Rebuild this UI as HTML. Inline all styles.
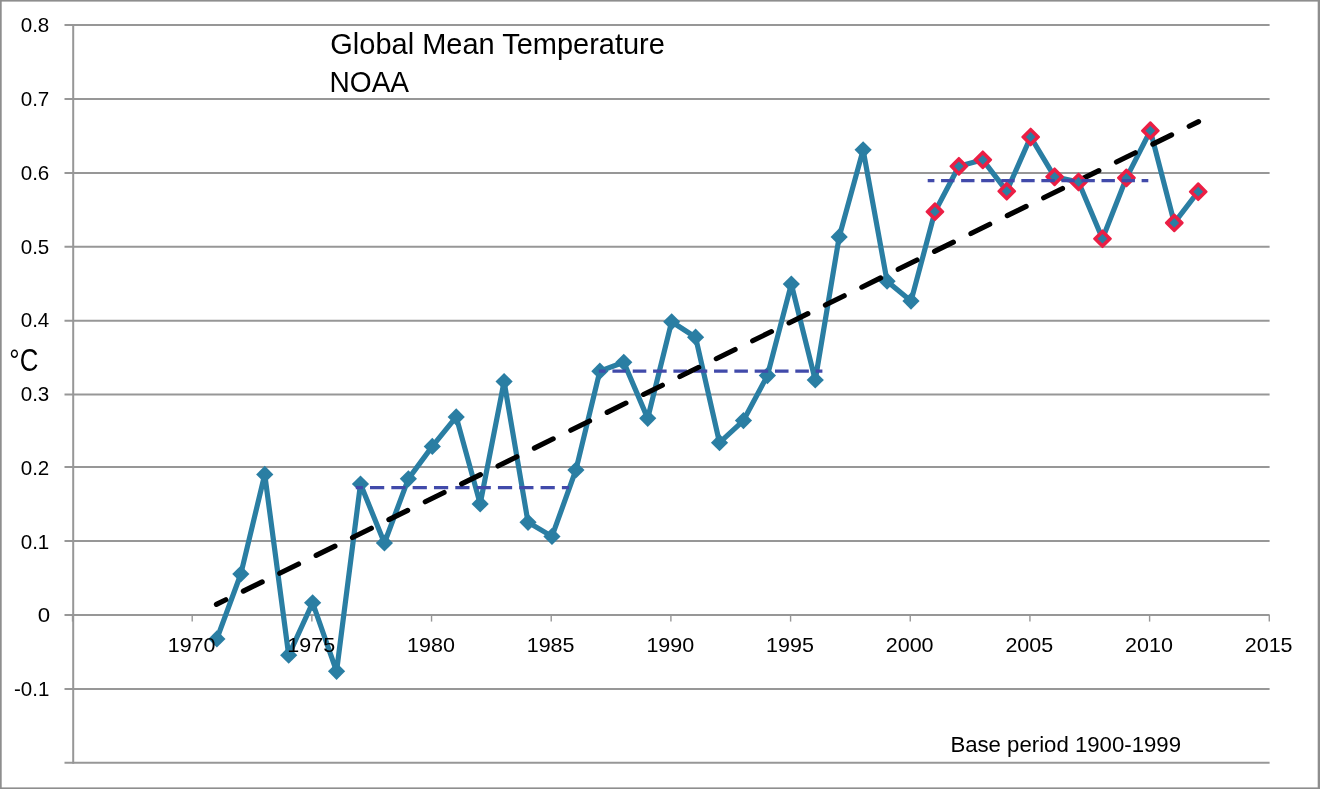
<!DOCTYPE html>
<html lang="en"><head><meta charset="utf-8"><title>Global Mean Temperature NOAA</title>
<style>html,body{margin:0;padding:0;background:#fff}body{width:1320px;height:789px;overflow:hidden}svg{display:block}</style>
</head><body>
<svg width="1320" height="789" viewBox="0 0 1320 789">
<rect x="0" y="0" width="1320" height="789" fill="#fff"/>
<g fill="#8e8e8e"><rect x="0" y="0" width="1320" height="1.6"/><rect x="0" y="787.4" width="1320" height="1.6"/><rect x="0" y="0" width="1.7" height="789"/><rect x="1317.7" y="0" width="2.3" height="789"/></g>
<g stroke="#979797" stroke-width="2" fill="none">
<line x1="64.5" y1="25.00" x2="1269.6" y2="25.00"/>
<line x1="64.5" y1="98.90" x2="1269.6" y2="98.90"/>
<line x1="64.5" y1="172.90" x2="1269.6" y2="172.90"/>
<line x1="64.5" y1="246.70" x2="1269.6" y2="246.70"/>
<line x1="64.5" y1="320.70" x2="1269.6" y2="320.70"/>
<line x1="64.5" y1="394.60" x2="1269.6" y2="394.60"/>
<line x1="64.5" y1="466.90" x2="1269.6" y2="466.90"/>
<line x1="64.5" y1="540.90" x2="1269.6" y2="540.90"/>
<line x1="64.5" y1="614.90" x2="1269.6" y2="614.90"/>
<line x1="64.5" y1="688.90" x2="1269.6" y2="688.90"/>
<line x1="64.5" y1="762.80" x2="1269.6" y2="762.80"/>
</g>
<line x1="73.2" y1="24.0" x2="73.2" y2="763.8" stroke="#979797" stroke-width="2"/>
<g stroke="#979797" stroke-width="1.4">
<line x1="72.52" y1="614.9" x2="72.52" y2="621.6"/>
<line x1="192.20" y1="614.9" x2="192.20" y2="621.6"/>
<line x1="311.88" y1="614.9" x2="311.88" y2="621.6"/>
<line x1="431.55" y1="614.9" x2="431.55" y2="621.6"/>
<line x1="551.22" y1="614.9" x2="551.22" y2="621.6"/>
<line x1="670.90" y1="614.9" x2="670.90" y2="621.6"/>
<line x1="790.58" y1="614.9" x2="790.58" y2="621.6"/>
<line x1="910.25" y1="614.9" x2="910.25" y2="621.6"/>
<line x1="1029.92" y1="614.9" x2="1029.92" y2="621.6"/>
<line x1="1149.60" y1="614.9" x2="1149.60" y2="621.6"/>
<line x1="1269.28" y1="614.9" x2="1269.28" y2="621.6"/>
</g>
<polyline points="216.88,638.90 240.82,573.99 264.75,474.42 288.69,655.13 312.62,602.76 336.56,671.36 360.50,484.01 384.43,543.02 408.37,478.84 432.30,446.39 456.23,416.89 480.17,503.92 504.10,381.48 528.04,522.36 551.97,536.38 575.91,469.99 599.85,371.15 623.78,362.30 647.71,418.36 671.65,321.74 695.59,337.22 719.52,442.70 743.45,420.57 767.39,375.58 791.33,284.12 815.26,380.01 839.19,236.91 863.13,149.87 887.07,281.17 911.00,301.08 934.93,211.69 958.87,166.32 982.80,159.83 1006.74,191.18 1030.67,136.97 1054.61,176.80 1078.54,181.96 1102.48,238.76 1126.41,177.90 1150.35,130.70 1174.28,222.90 1198.22,191.70" fill="none" stroke="#2a7ea3" stroke-width="5.2" stroke-linejoin="round"/>
<polygon points="216.88,630.30 225.48,638.90 216.88,647.50 208.28,638.90" fill="#2a7ea3"/>
<polygon points="240.82,565.39 249.42,573.99 240.82,582.59 232.22,573.99" fill="#2a7ea3"/>
<polygon points="264.75,465.82 273.36,474.42 264.75,483.02 256.15,474.42" fill="#2a7ea3"/>
<polygon points="288.69,646.53 297.29,655.13 288.69,663.73 280.09,655.13" fill="#2a7ea3"/>
<polygon points="312.62,594.16 321.23,602.76 312.62,611.36 304.02,602.76" fill="#2a7ea3"/>
<polygon points="336.56,662.76 345.16,671.36 336.56,679.96 327.96,671.36" fill="#2a7ea3"/>
<polygon points="360.50,475.41 369.10,484.01 360.50,492.61 351.89,484.01" fill="#2a7ea3"/>
<polygon points="384.43,534.42 393.03,543.02 384.43,551.62 375.83,543.02" fill="#2a7ea3"/>
<polygon points="408.37,470.24 416.97,478.84 408.37,487.44 399.76,478.84" fill="#2a7ea3"/>
<polygon points="432.30,437.79 440.90,446.39 432.30,454.99 423.70,446.39" fill="#2a7ea3"/>
<polygon points="456.23,408.29 464.83,416.89 456.23,425.49 447.63,416.89" fill="#2a7ea3"/>
<polygon points="480.17,495.32 488.77,503.92 480.17,512.52 471.57,503.92" fill="#2a7ea3"/>
<polygon points="504.10,372.88 512.70,381.48 504.10,390.08 495.50,381.48" fill="#2a7ea3"/>
<polygon points="528.04,513.76 536.64,522.36 528.04,530.96 519.44,522.36" fill="#2a7ea3"/>
<polygon points="551.97,527.78 560.57,536.38 551.97,544.98 543.37,536.38" fill="#2a7ea3"/>
<polygon points="575.91,461.39 584.51,469.99 575.91,478.59 567.31,469.99" fill="#2a7ea3"/>
<polygon points="599.85,362.55 608.45,371.15 599.85,379.75 591.25,371.15" fill="#2a7ea3"/>
<polygon points="623.78,353.70 632.38,362.30 623.78,370.90 615.18,362.30" fill="#2a7ea3"/>
<polygon points="647.71,409.76 656.31,418.36 647.71,426.96 639.11,418.36" fill="#2a7ea3"/>
<polygon points="671.65,313.14 680.25,321.74 671.65,330.34 663.05,321.74" fill="#2a7ea3"/>
<polygon points="695.59,328.62 704.19,337.22 695.59,345.82 686.99,337.22" fill="#2a7ea3"/>
<polygon points="719.52,434.10 728.12,442.70 719.52,451.30 710.92,442.70" fill="#2a7ea3"/>
<polygon points="743.45,411.97 752.05,420.57 743.45,429.17 734.85,420.57" fill="#2a7ea3"/>
<polygon points="767.39,366.98 775.99,375.58 767.39,384.18 758.79,375.58" fill="#2a7ea3"/>
<polygon points="791.33,275.52 799.93,284.12 791.33,292.72 782.73,284.12" fill="#2a7ea3"/>
<polygon points="815.26,371.41 823.86,380.01 815.26,388.61 806.66,380.01" fill="#2a7ea3"/>
<polygon points="839.19,228.31 847.79,236.91 839.19,245.51 830.59,236.91" fill="#2a7ea3"/>
<polygon points="863.13,141.27 871.73,149.87 863.13,158.47 854.53,149.87" fill="#2a7ea3"/>
<polygon points="887.07,272.57 895.67,281.17 887.07,289.77 878.47,281.17" fill="#2a7ea3"/>
<polygon points="911.00,292.48 919.60,301.08 911.00,309.68 902.40,301.08" fill="#2a7ea3"/>
<line x1="355.80" y1="487.60" x2="569.00" y2="487.60" stroke="#414aaa" stroke-width="3.4" stroke-dasharray="14.213 7.107" stroke-dashoffset="7.107"/>
<line x1="598.90" y1="371.10" x2="822.40" y2="371.10" stroke="#414aaa" stroke-width="3.4" stroke-dasharray="13.545 6.773" stroke-dashoffset="6.773"/>
<line x1="216.40" y1="604.40" x2="1198.60" y2="121.60" stroke="#000" stroke-width="5.1" stroke-linecap="round" stroke-dasharray="21.018 19.517" stroke-dashoffset="10.509"/>
<polygon points="934.93,203.39 943.23,211.69 934.93,219.99 926.63,211.69" fill="#eb1f45" stroke="#eb1f45" stroke-width="2.2" stroke-linejoin="round"/>
<polygon points="934.93,206.84 939.78,211.69 934.93,216.54 930.08,211.69" fill="#2a7ea3"/>
<polygon points="958.87,158.02 967.17,166.32 958.87,174.62 950.57,166.32" fill="#eb1f45" stroke="#eb1f45" stroke-width="2.2" stroke-linejoin="round"/>
<polygon points="958.87,161.47 963.72,166.32 958.87,171.17 954.02,166.32" fill="#2a7ea3"/>
<polygon points="982.80,151.53 991.10,159.83 982.80,168.13 974.50,159.83" fill="#eb1f45" stroke="#eb1f45" stroke-width="2.2" stroke-linejoin="round"/>
<polygon points="982.80,154.98 987.65,159.83 982.80,164.68 977.95,159.83" fill="#2a7ea3"/>
<polygon points="1006.74,182.88 1015.04,191.18 1006.74,199.48 998.44,191.18" fill="#eb1f45" stroke="#eb1f45" stroke-width="2.2" stroke-linejoin="round"/>
<polygon points="1006.74,186.33 1011.59,191.18 1006.74,196.03 1001.89,191.18" fill="#2a7ea3"/>
<polygon points="1030.67,128.67 1038.97,136.97 1030.67,145.27 1022.38,136.97" fill="#eb1f45" stroke="#eb1f45" stroke-width="2.2" stroke-linejoin="round"/>
<polygon points="1030.67,132.12 1035.52,136.97 1030.67,141.82 1025.83,136.97" fill="#2a7ea3"/>
<polygon points="1054.61,168.50 1062.91,176.80 1054.61,185.10 1046.31,176.80" fill="#eb1f45" stroke="#eb1f45" stroke-width="2.2" stroke-linejoin="round"/>
<polygon points="1054.61,171.95 1059.46,176.80 1054.61,181.65 1049.76,176.80" fill="#2a7ea3"/>
<polygon points="1078.54,173.66 1086.84,181.96 1078.54,190.26 1070.24,181.96" fill="#eb1f45" stroke="#eb1f45" stroke-width="2.2" stroke-linejoin="round"/>
<polygon points="1078.54,177.11 1083.39,181.96 1078.54,186.81 1073.69,181.96" fill="#2a7ea3"/>
<polygon points="1102.48,230.46 1110.78,238.76 1102.48,247.06 1094.18,238.76" fill="#eb1f45" stroke="#eb1f45" stroke-width="2.2" stroke-linejoin="round"/>
<polygon points="1102.48,233.91 1107.33,238.76 1102.48,243.61 1097.63,238.76" fill="#2a7ea3"/>
<polygon points="1126.41,169.60 1134.71,177.90 1126.41,186.20 1118.12,177.90" fill="#eb1f45" stroke="#eb1f45" stroke-width="2.2" stroke-linejoin="round"/>
<polygon points="1126.41,173.05 1131.26,177.90 1126.41,182.75 1121.57,177.90" fill="#2a7ea3"/>
<polygon points="1150.35,122.40 1158.65,130.70 1150.35,139.00 1142.05,130.70" fill="#eb1f45" stroke="#eb1f45" stroke-width="2.2" stroke-linejoin="round"/>
<polygon points="1150.35,125.85 1155.20,130.70 1150.35,135.55 1145.50,130.70" fill="#2a7ea3"/>
<polygon points="1174.28,214.60 1182.58,222.90 1174.28,231.20 1165.98,222.90" fill="#eb1f45" stroke="#eb1f45" stroke-width="2.2" stroke-linejoin="round"/>
<polygon points="1174.28,218.05 1179.13,222.90 1174.28,227.75 1169.43,222.90" fill="#2a7ea3"/>
<polygon points="1198.22,183.40 1206.52,191.70 1198.22,200.00 1189.92,191.70" fill="#eb1f45" stroke="#eb1f45" stroke-width="2.2" stroke-linejoin="round"/>
<polygon points="1198.22,186.85 1203.07,191.70 1198.22,196.55 1193.37,191.70" fill="#2a7ea3"/>
<line x1="927.70" y1="180.60" x2="1148.30" y2="180.60" stroke="#414aaa" stroke-width="3.4" stroke-dasharray="13.370 6.685" stroke-dashoffset="6.685"/>
<g font-family="'Liberation Sans', sans-serif" fill="#000">
<text x="20.70" y="32.45" font-size="21" textLength="28.6" lengthAdjust="spacingAndGlyphs">0.8</text>
<text x="20.70" y="106.18" font-size="21" textLength="28.6" lengthAdjust="spacingAndGlyphs">0.7</text>
<text x="20.70" y="179.91" font-size="21" textLength="28.6" lengthAdjust="spacingAndGlyphs">0.6</text>
<text x="20.70" y="253.64" font-size="21" textLength="28.6" lengthAdjust="spacingAndGlyphs">0.5</text>
<text x="20.70" y="327.37" font-size="21" textLength="28.6" lengthAdjust="spacingAndGlyphs">0.4</text>
<text x="20.70" y="401.10" font-size="21" textLength="28.6" lengthAdjust="spacingAndGlyphs">0.3</text>
<text x="20.70" y="474.83" font-size="21" textLength="28.6" lengthAdjust="spacingAndGlyphs">0.2</text>
<text x="20.70" y="548.56" font-size="21" textLength="28.6" lengthAdjust="spacingAndGlyphs">0.1</text>
<text x="37.70" y="622.29" font-size="21" textLength="12.4" lengthAdjust="spacingAndGlyphs">0</text>
<text x="14.00" y="696.02" font-size="21" textLength="35.3" lengthAdjust="spacingAndGlyphs">-0.1</text>
<text x="167.70" y="652" font-size="21" textLength="47.8" lengthAdjust="spacingAndGlyphs">1970</text>
<text x="287.38" y="652" font-size="21" textLength="47.8" lengthAdjust="spacingAndGlyphs">1975</text>
<text x="407.05" y="652" font-size="21" textLength="47.8" lengthAdjust="spacingAndGlyphs">1980</text>
<text x="526.72" y="652" font-size="21" textLength="47.8" lengthAdjust="spacingAndGlyphs">1985</text>
<text x="646.40" y="652" font-size="21" textLength="47.8" lengthAdjust="spacingAndGlyphs">1990</text>
<text x="766.08" y="652" font-size="21" textLength="47.8" lengthAdjust="spacingAndGlyphs">1995</text>
<text x="885.75" y="652" font-size="21" textLength="47.8" lengthAdjust="spacingAndGlyphs">2000</text>
<text x="1005.43" y="652" font-size="21" textLength="47.8" lengthAdjust="spacingAndGlyphs">2005</text>
<text x="1125.10" y="652" font-size="21" textLength="47.8" lengthAdjust="spacingAndGlyphs">2010</text>
<text x="1244.78" y="652" font-size="21" textLength="47.8" lengthAdjust="spacingAndGlyphs">2015</text>
<text x="950.4" y="752.1" font-size="21.2" textLength="230.6" lengthAdjust="spacingAndGlyphs">Base period 1900-1999</text>
<text x="330.3" y="54.2" font-size="29.6" textLength="334.6" lengthAdjust="spacingAndGlyphs">Global Mean Temperature</text>
<text x="329.5" y="91.5" font-size="29.6" textLength="79.6" lengthAdjust="spacingAndGlyphs">NOAA</text>
<text x="9.3" y="370.9" font-size="31" textLength="29" lengthAdjust="spacingAndGlyphs">°C</text>
</g>
</svg>
</body></html>
